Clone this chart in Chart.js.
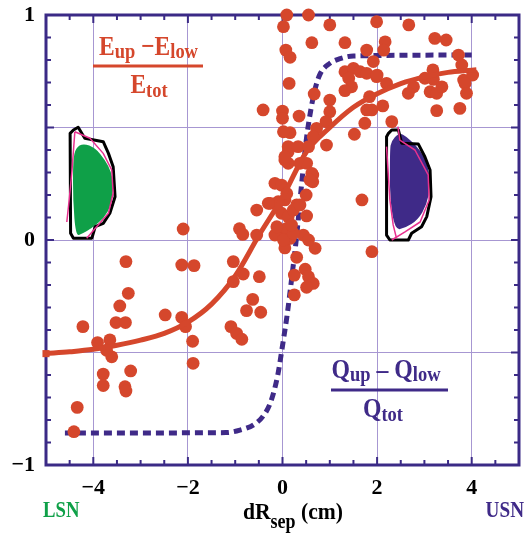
<!DOCTYPE html>
<html>
<head>
<meta charset="utf-8">
<script src="https://cdn.jsdelivr.net/npm/chart.js@4.4.1/dist/chart.umd.min.js"></script>
<style>
html,body{margin:0;padding:0;background:#fff;}
#c{display:block;}
</style>
</head>
<body>
<canvas id="c" width="527" height="533"></canvas>
<script>
// ---------- data ----------
const xTickLabels = [-4, -2, 0, 2, 4];
const yTickLabels = [-1, 0, 1];

// measured points (dR_sep, (Eup-Elow)/Etot)
const pointsX = [
 -2.10,-3.31,-2.13,-1.87,-3.26,-3.44,-3.52,-3.32,-4.22,-2.48,-2.13,-2.05,-3.91,-3.65,-3.61,-1.90,-1.89,-3.79,-3.79,-3.21,-3.33,-3.31,-4.34,-4.41,-3.72,
 -0.545,-0.91,-0.84,-0.545,-1.04,-0.83,-0.49,-1.04,-0.63,-0.76,-0.46,-1.09,-0.97,-0.86,
 0.30,0.25,0.25,0.48,0.55,0.65,0.51,0.69,0.44,0.55,0.05,1.89,
 -0.16,-0.02,0.12,0.05,0.12,0.37,0.51,0.64,0.64,0.50,0.51,0.30,0.05,-0.26,-0.09,0.09,-0.02,0.12,0.23,-0.05,-0.16,0.09,0.16,0.02,0.23,0.19,-0.12,0.37,0.62,0.58,1.68,-0.30,
 0.09,0.55,0.02,1.00,0.62,1.32,1.99,0.07,0.16,1.78,0.14,1.32,1.50,1.64,1.78,1.92,1.99,1.40,1.46,1.32,0.67,1.00,-0.41,0.00,0.00,0.35,1.00,0.92,1.84,1.89,1.78,1.74,1.52,0.16,0.72,0.65,0.93,0.12,0.33,0.55,0.05,0.02,
 2.67,2.17,2.14,3.22,3.46,3.72,3.79,2.00,3.18,3.01,3.19,3.83,4.02,3.86,2.20,2.77,2.66,3.12,3.26,3.37,3.89,2.12,3.26,3.75,2.31
];
const pointsY = [
 0.049,-0.096,-0.111,-0.114,-0.237,-0.293,-0.367,-0.367,-0.385,-0.333,-0.344,-0.385,-0.456,-0.444,-0.519,-0.450,-0.548,-0.596,-0.647,-0.582,-0.652,-0.671,-0.744,-0.852,-0.490,
 0.133,0.050,0.025,0.022,-0.096,-0.151,-0.163,-0.185,-0.264,-0.314,-0.321,-0.385,-0.415,-0.441,
 -0.077,-0.156,-0.244,-0.130,-0.163,-0.193,-0.210,-0.037,0.022,0.000,-0.035,-0.052,
 0.252,0.244,0.341,0.356,0.392,0.341,0.341,0.289,0.259,0.200,0.107,0.156,0.178,0.163,0.170,0.207,0.119,0.104,0.133,0.044,0.022,0.052,0.007,0.000,0.030,0.067,0.059,0.156,0.296,0.267,0.178,0.163,
 1.000,1.000,0.948,0.956,0.877,0.877,0.970,0.844,0.812,0.844,0.696,0.748,0.763,0.748,0.741,0.793,0.726,0.719,0.681,0.664,0.649,0.622,0.578,0.573,0.541,0.551,0.570,0.526,0.637,0.578,0.578,0.519,0.470,0.477,0.496,0.459,0.422,0.415,0.415,0.415,0.370,0.481,
 0.956,0.881,0.844,0.896,0.889,0.822,0.778,0.733,0.756,0.719,0.714,0.711,0.733,0.696,0.696,0.681,0.652,0.659,0.652,0.681,0.652,0.596,0.575,0.585,0.526
];

// fitted energy asymmetry curve (solid red)
const fitX = [-5,-4.5,-4,-3.5,-3,-2.5,-2,-1.5,-1,-0.5,0,0.5,1,1.5,2,2.5,3,3.5,4,4.1];
const fitY = [-0.505,-0.497,-0.486,-0.468,-0.445,-0.415,-0.365,-0.285,-0.16,0.02,0.19,0.39,0.50,0.59,0.65,0.695,0.725,0.745,0.755,0.757];

// heat flux asymmetry curve (dashed purple)
const qX = [-4.6,-1.2,-0.9,-0.6,-0.4,-0.25,-0.1,0.0,0.1,0.2,0.3,0.4,0.5,0.6,0.7,0.8,1.0,1.2,1.5,4.0];
const qY = [-0.858,-0.856,-0.845,-0.82,-0.78,-0.72,-0.60,-0.47,-0.33,-0.16,0.02,0.24,0.44,0.58,0.68,0.74,0.785,0.805,0.818,0.822];

// inset cross-sections (data coordinates)
const lsnVessel = [[-4.42,0.489],[-4.32,0.501],[-4.18,0.452],[-3.79,0.437],[-3.68,0.385],[-3.58,0.326],[-3.54,0.192],[-3.65,0.119],[-3.79,0.074],[-3.96,0.059],[-4.03,0.008],[-4.42,0.008],[-4.48,0.030],[-4.49,0.474]];
const lsnPlasma = [[-4.37,0.018],[-4.43,0.178],[-4.43,0.356],[-4.37,0.409],[-4.21,0.430],[-3.96,0.409],[-3.75,0.356],[-3.62,0.302],[-3.57,0.244],[-3.62,0.156],[-3.77,0.098],[-4.03,0.053],[-4.24,0.027]];
const lsnSepA = [[-4.39,0.481],[-4.45,0.311],[-4.51,0.178],[-4.56,0.080]];
const lsnSepB = [[-4.39,0.481],[-4.07,0.452],[-3.79,0.385],[-3.61,0.311],[-3.58,0.209],[-3.68,0.119],[-3.93,0.059],[-4.14,0.008]];
const usnVessel = [[2.24,0.474],[2.31,0.489],[2.45,0.489],[2.52,0.430],[2.87,0.427],[3.01,0.370],[3.12,0.311],[3.14,0.192],[3.05,0.104],[2.94,0.059],[2.73,0.030],[2.66,0.000],[2.27,0.000],[2.20,0.022],[2.20,0.459]];
const usnPlasma = [[2.45,0.474],[2.30,0.440],[2.27,0.400],[2.27,0.178],[2.38,0.044],[2.59,0.053],[2.86,0.089],[3.05,0.156],[3.12,0.237],[3.08,0.333],[2.91,0.400],[2.70,0.444],[2.54,0.471]];
const usnSepA = [[2.44,0.504],[2.48,0.444],[2.80,0.400],[3.08,0.289],[3.10,0.178],[2.91,0.080],[2.59,0.036],[2.31,0.000]];
const usnSepB = [[2.20,0.415],[2.27,0.178],[2.34,0.067],[2.41,0.008]];

// ---------- style ----------
const RED = '#d5472c';
const PURPLE = '#3f2a88';
const FRAME = '#3b2a86';
const GRID = '#a797d2';
const GREEN = '#0fa048';
const PINK = '#e8318f';
const SERIF = '"Liberation Serif", "Times New Roman", serif';

const scatterData = pointsX.map((x, i) => ({x, y: pointsY[i]}));
const fitData = fitX.map((x, i) => ({x, y: fitY[i]}));
const qData = qX.map((x, i) => ({x, y: qY[i]}));

function near(v, list) { return list.some(t => Math.abs(v - t) < 1e-6); }
function fmt(v) { return v < 0 ? '\u2212' + Math.abs(v) : String(v); }

// draws text made of [text, fontSize, baselineShift] parts, horizontally squeezed by sx
function drawRich(ctx, parts, x, y, align, sx) {
  sx = sx || 1;
  let w = 0;
  parts.forEach(p => { ctx.font = 'bold ' + p[1] + 'px ' + SERIF; w += ctx.measureText(p[0]).width; });
  w *= sx;
  let cx = align === 'center' ? x - w / 2 : (align === 'right' ? x - w : x);
  ctx.save();
  ctx.translate(cx, y);
  ctx.scale(sx, 1);
  ctx.textAlign = 'left';
  ctx.textBaseline = 'alphabetic';
  let ox = 0;
  parts.forEach(p => {
    ctx.font = 'bold ' + p[1] + 'px ' + SERIF;
    ctx.fillText(p[0], ox, p[2]);
    ox += ctx.measureText(p[0]).width;
  });
  ctx.restore();
}

const decoPlugin = {
  id: 'deco',
  beforeDatasetsDraw(chart) {
    const ctx = chart.ctx, xs = chart.scales.x, ys = chart.scales.y, a = chart.chartArea;
    const px = p => [xs.getPixelForValue(p[0]), ys.getPixelForValue(p[1])];
    const path = pts => { ctx.beginPath(); pts.forEach((p, i) => { const q = px(p); i ? ctx.lineTo(q[0], q[1]) : ctx.moveTo(q[0], q[1]); }); };
    // smooth closed path through midpoints
    const smooth = pts => {
      const P = pts.map(px), n = P.length;
      const mid = (u, v) => [(u[0] + v[0]) / 2, (u[1] + v[1]) / 2];
      ctx.beginPath();
      let m = mid(P[n - 1], P[0]);
      ctx.moveTo(m[0], m[1]);
      for (let i = 0; i < n; i++) {
        const m2 = mid(P[i], P[(i + 1) % n]);
        ctx.quadraticCurveTo(P[i][0], P[i][1], m2[0], m2[1]);
      }
      ctx.closePath();
    };
    ctx.save();
    ctx.lineJoin = 'round';
    // insets
    [[lsnVessel, lsnPlasma, GREEN, [lsnSepA, lsnSepB]], [usnVessel, usnPlasma, PURPLE, [usnSepA, usnSepB]]].forEach(s => {
      smooth(s[1]); ctx.fillStyle = s[2]; ctx.fill();
      path(s[0]); ctx.closePath(); ctx.strokeStyle = '#000'; ctx.lineWidth = 3; ctx.stroke();
      s[3].forEach(l => { path(l); ctx.strokeStyle = PINK; ctx.lineWidth = 1.5; ctx.stroke(); });
    });
    // frame
    ctx.strokeStyle = FRAME; ctx.lineWidth = 3; ctx.lineJoin = 'miter';
    ctx.strokeRect(a.left, a.top, a.right - a.left, a.bottom - a.top);
    // inward ticks
    ctx.lineWidth = 2;
    ctx.beginPath();
    for (let i = -10; i <= 10; i++) {
      const v = i / 2, x = xs.getPixelForValue(v), len = (i % 4 === 0) ? 8 : 5;
      ctx.moveTo(x, a.bottom); ctx.lineTo(x, a.bottom - len);
      ctx.moveTo(x, a.top); ctx.lineTo(x, a.top + len);
    }
    for (let i = -10; i <= 10; i++) {
      const v = i / 10, y = ys.getPixelForValue(v), len = (i % 5 === 0) ? 8 : 5;
      ctx.moveTo(a.left, y); ctx.lineTo(a.left + len, y);
      ctx.moveTo(a.right, y); ctx.lineTo(a.right - len, y);
    }
    ctx.stroke();
    ctx.restore();
  },
  afterDraw(chart) {
    const ctx = chart.ctx;
    ctx.save();
    // energy fraction label
    ctx.fillStyle = RED;
    drawRich(ctx, [['E', 28, 0], ['up', 22, 3], [' \u2212', 28, 0], ['E', 28, 0], ['low', 22, 3]], 148.5, 55, 'center', 0.84);
    ctx.fillRect(93, 64.5, 110, 3);
    drawRich(ctx, [['E', 28, 0], ['tot', 22, 4]], 149, 93, 'center', 0.84);
    // heat flux fraction label
    ctx.fillStyle = PURPLE;
    drawRich(ctx, [['Q', 27, 0], ['up', 21, 3], [' \u2013 ', 27, 0], ['Q', 27, 0], ['low', 21, 3]], 386, 378, 'center', 0.88);
    ctx.fillRect(331, 388.5, 117, 3);
    drawRich(ctx, [['Q', 27, 0], ['tot', 21, 4]], 383, 417, 'center', 0.88);
    // axis title
    ctx.fillStyle = '#000';
    drawRich(ctx, [['dR', 24, 0], ['sep', 20, 9], [' (cm)', 24, 0]], 243, 519, 'left', 0.9);
    // LSN / USN
    ctx.fillStyle = GREEN;
    drawRich(ctx, [['LSN', 24, 0]], 43, 517, 'left', 0.78);
    ctx.fillStyle = PURPLE;
    drawRich(ctx, [['USN', 24, 0]], 524, 517, 'right', 0.8);
    ctx.restore();
  }
};

new Chart(document.getElementById('c'), {
  data: {
    datasets: [
      {
        type: 'line', label: 'E fit', data: fitData, order: 0,
        borderColor: RED, backgroundColor: RED, borderWidth: 5,
        cubicInterpolationMode: 'monotone', fill: false, clip: false,
        pointStyle: 'rect', pointRadius: c => c.dataIndex === 0 ? 5 : 0,
        pointBorderWidth: 0, pointBackgroundColor: RED
      },
      {
        type: 'scatter', label: 'E data', data: scatterData, order: 1,
        backgroundColor: RED, borderColor: RED, borderWidth: 0,
        pointRadius: 6.4, pointHoverRadius: 6.4, clip: false
      },
      {
        type: 'line', label: 'Q fit', data: qData, order: 2,
        borderColor: PURPLE, borderWidth: 5, borderDash: [8, 5], borderCapStyle: 'butt',
        cubicInterpolationMode: 'monotone', fill: false, pointRadius: 0
      }
    ]
  },
  options: {
    responsive: false,
    animation: false,
    devicePixelRatio: 1,
    layout: { padding: { top: 15, right: 8, left: 0, bottom: 0 } },
    plugins: { legend: { display: false }, tooltip: { enabled: false } },
    scales: {
      x: {
        type: 'linear', min: -5, max: 5,
        afterFit: s => { s.height = 68; s.paddingLeft = 0; s.paddingRight = 0; },
        ticks: {
          stepSize: 0.5, autoSkip: false, maxRotation: 0, padding: 10,
          color: '#000', font: { family: SERIF, size: 22, weight: 'bold' },
          callback: v => near(v, xTickLabels) ? fmt(Math.round(v)) : ''
        },
        grid: { drawTicks: false, lineWidth: 1, color: c => near(c.tick.value, xTickLabels) ? GRID : 'rgba(0,0,0,0)' },
        border: { display: false }
      },
      y: {
        type: 'linear', min: -1, max: 1,
        afterFit: s => { s.width = 46; s.paddingTop = 0; s.paddingBottom = 0; },
        ticks: {
          stepSize: 0.1, autoSkip: false, padding: 11,
          color: '#000', font: { family: SERIF, size: 22, weight: 'bold' },
          callback: v => near(v, yTickLabels) ? fmt(Math.round(v)) : ''
        },
        grid: { drawTicks: false, lineWidth: 1, color: c => near(c.tick.value, [-0.5, 0, 0.5]) ? GRID : 'rgba(0,0,0,0)' },
        border: { display: false }
      }
    }
  },
  plugins: [decoPlugin]
});
</script>
</body>
</html>
